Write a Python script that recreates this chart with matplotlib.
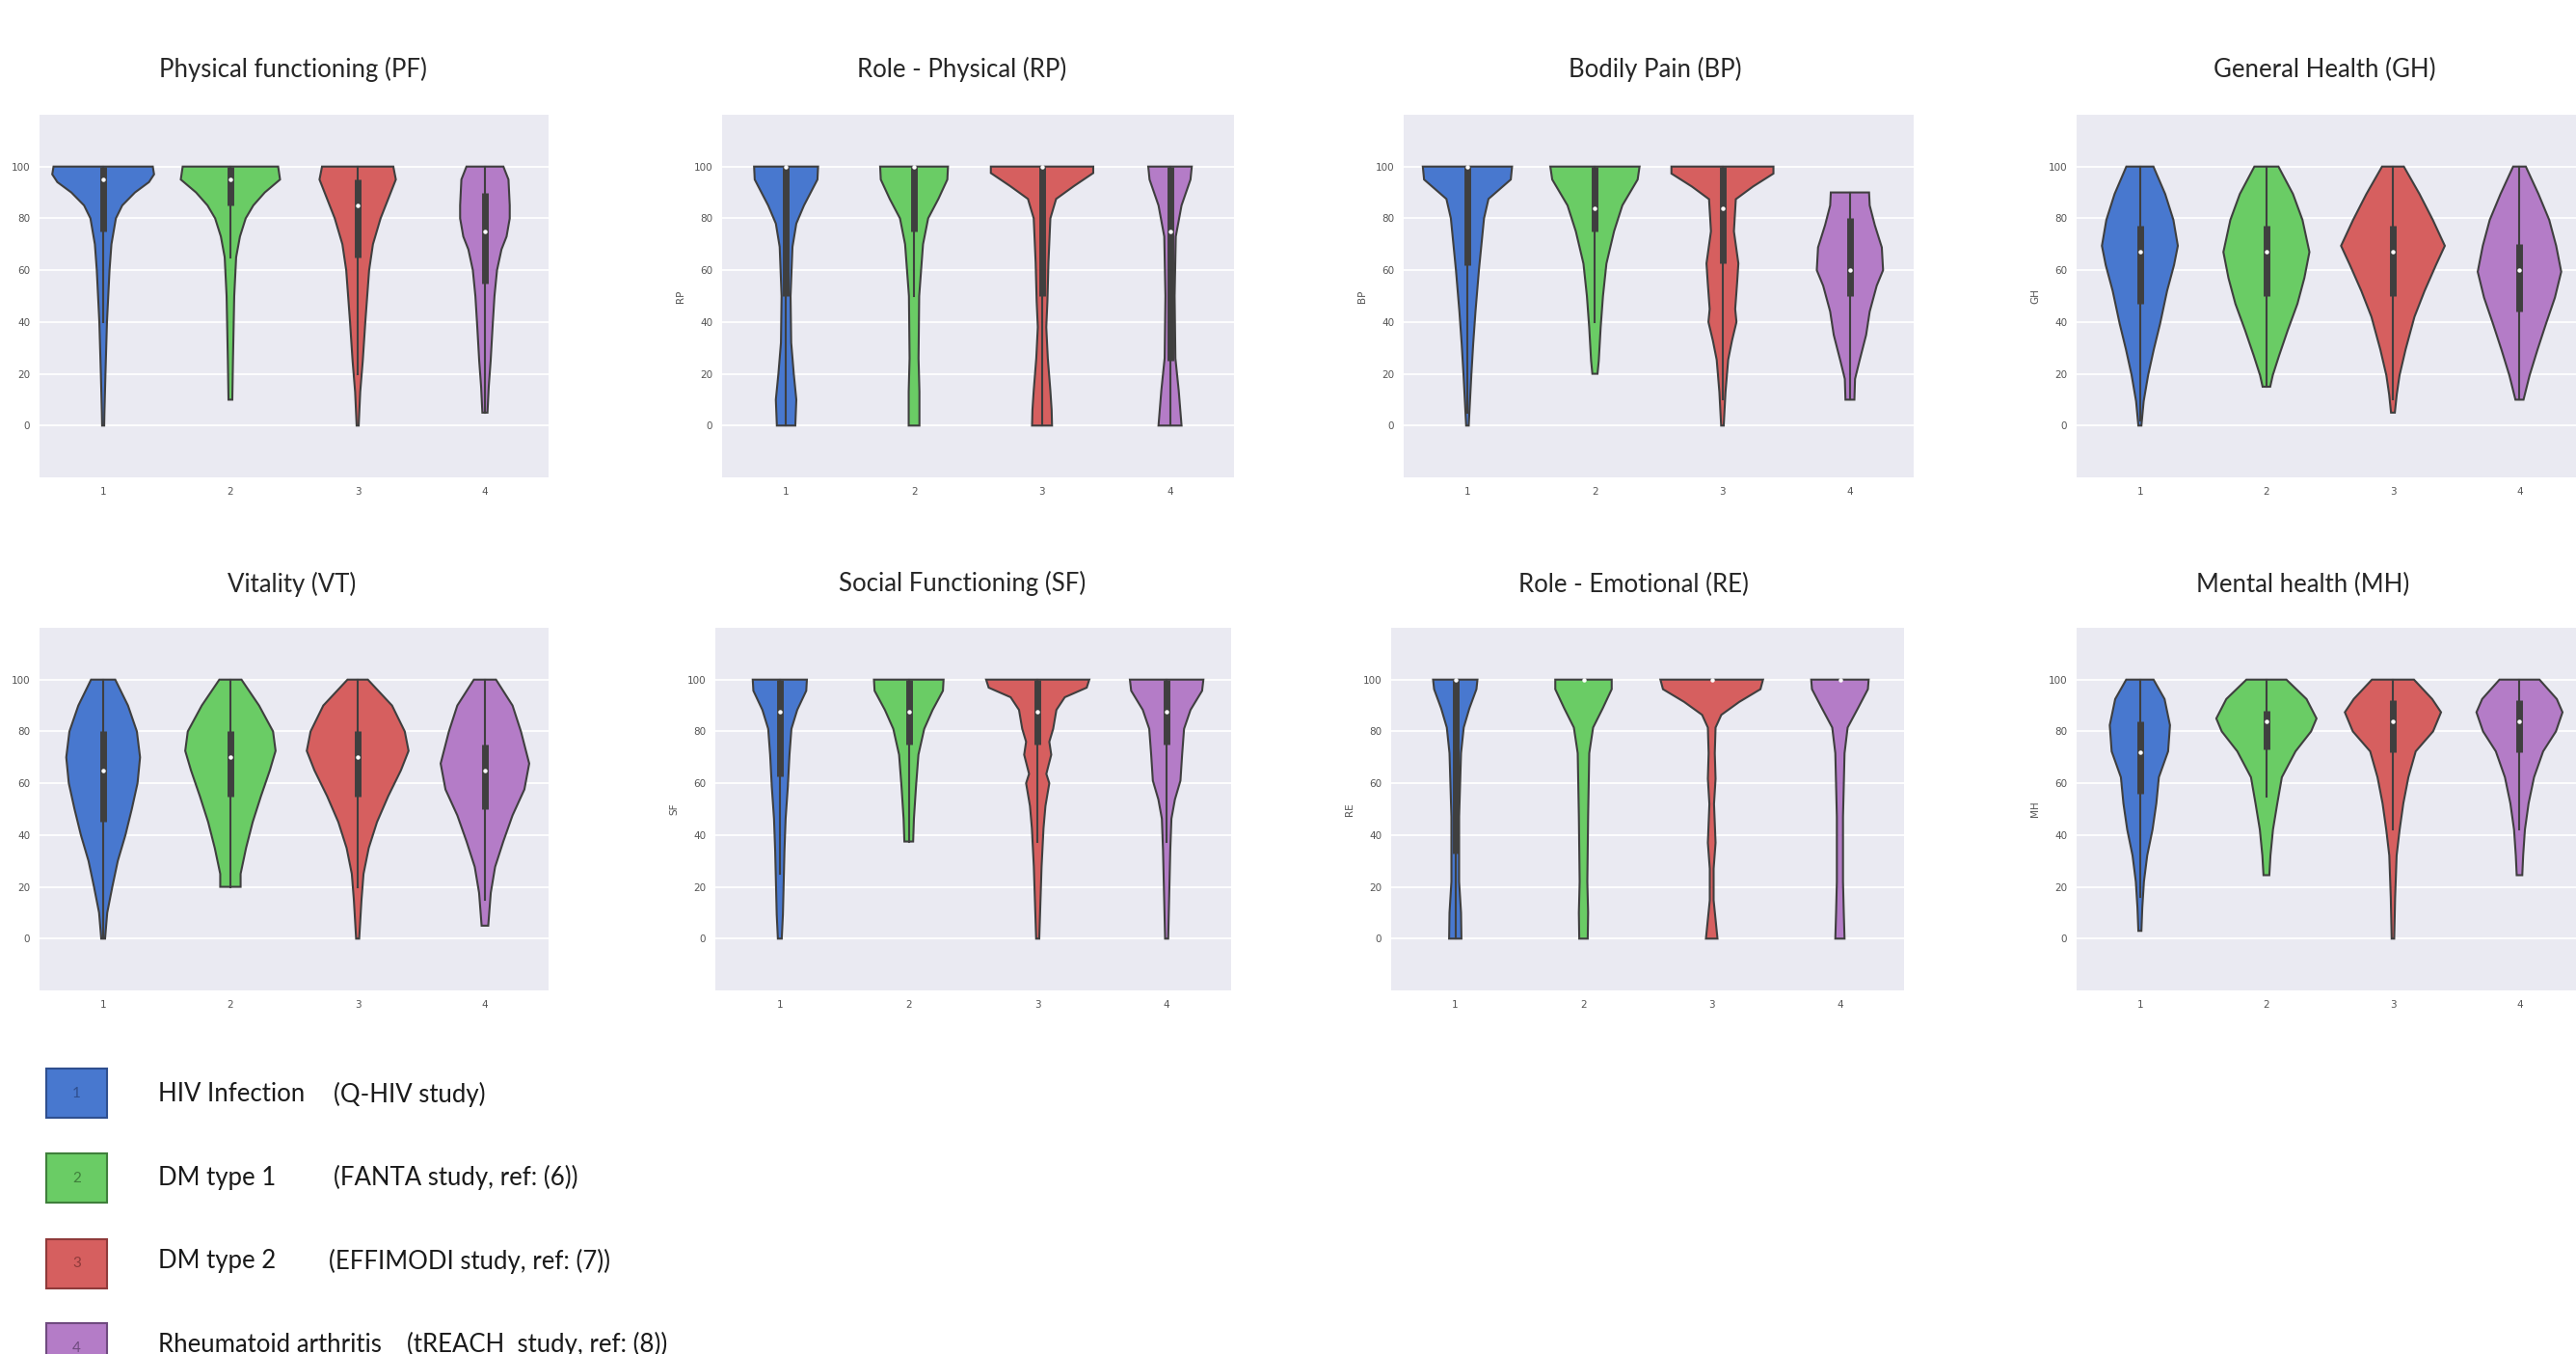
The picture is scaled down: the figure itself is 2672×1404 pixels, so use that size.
import matplotlib
matplotlib.use("Agg")
import matplotlib.pyplot as plt
from matplotlib.patches import Rectangle

W, H = 2672, 1404

groups = ["1", "2", "3", "4"]
colors = ["#4878CF", "#6ACC65", "#D65F5F", "#B47CC7"]
edge_colors = ["#2f4f8f", "#3f7f3b", "#8f3a3a", "#6f4a7f"]
gray = "#3f3f3f"

legend_names = ["HIV Infection", "DM type 1", "DM type 2", "Rheumatoid arthritis"]
legend_studies = ["(Q-HIV study)", "(FANTA study, ref: (6))",
                  "(EFFIMODI study, ref: (7))", "(tREACH  study, ref: (8))"]

# violin outlines: levels (score) and half widths (x units)
# box = [whisker low, q1, median, q3, whisker high]
pf_y = [[100, 97, 94, 90, 85, 80, 70, 60, 40, 20, 5, 0],
        [100, 95, 90, 85, 80, 73, 65, 50, 25, 10],
        [100, 95, 85, 80, 70, 60, 40, 25, 13, 0],
        [100, 95, 85, 80, 73, 68, 60, 50, 38, 25, 15, 5]]
pf_w = [[0.39, 0.40, 0.36, 0.25, 0.15, 0.10, 0.065, 0.05, 0.03, 0.018, 0.01, 0.008],
        [0.375, 0.39, 0.27, 0.18, 0.12, 0.075, 0.045, 0.03, 0.02, 0.015],
        [0.28, 0.30, 0.22, 0.18, 0.12, 0.09, 0.06, 0.04, 0.02, 0.008],
        [0.145, 0.185, 0.195, 0.195, 0.17, 0.13, 0.095, 0.075, 0.06, 0.045, 0.03, 0.02]]
pf_box = [[40, 75, 95, 100, 100], [65, 85, 95, 100, 100],
          [20, 65, 85, 95, 100], [5, 55, 75, 90, 100]]

rp_y = [[100, 95, 85, 78, 69, 50, 32, 20, 10, 0],
        [100, 95, 87.5, 80, 70, 50, 26, 13, 0],
        [100, 97.5, 92.5, 87.5, 80, 63, 48, 38, 26, 13.5, 6, 0],
        [100, 95, 85, 73, 50, 26, 13.5, 0]]
rp_w = [[0.25, 0.245, 0.14, 0.08, 0.05, 0.035, 0.04, 0.06, 0.08, 0.072],
        [0.265, 0.26, 0.19, 0.11, 0.07, 0.04, 0.035, 0.042, 0.042],
        [0.40, 0.40, 0.25, 0.11, 0.065, 0.05, 0.042, 0.033, 0.045, 0.065, 0.075, 0.078],
        [0.17, 0.16, 0.09, 0.045, 0.036, 0.042, 0.068, 0.09]]
rp_box = [[0, 50, 100, 100, 100], [50, 75, 100, 100, 100],
          [0, 50, 100, 100, 100], [0, 25, 75, 100, 100]]

bp_y = [[100, 95, 87.5, 80, 70, 60, 44, 31.5, 19, 0],
        [100, 95, 85, 75, 62.5, 50, 38, 25, 20],
        [100, 97.3, 92.3, 87.4, 75, 62.6, 55, 45, 40, 32.8, 25.4, 13, 0],
        [90, 85, 77.4, 68.8, 60, 54, 44, 35, 25, 18, 10]]
bp_w = [[0.35, 0.34, 0.165, 0.13, 0.11, 0.09, 0.063, 0.045, 0.03, 0.01],
        [0.35, 0.335, 0.215, 0.15, 0.09, 0.063, 0.045, 0.03, 0.02],
        [0.40, 0.40, 0.24, 0.105, 0.09, 0.125, 0.115, 0.10, 0.11, 0.075, 0.045, 0.024, 0.01],
        [0.15, 0.155, 0.195, 0.25, 0.26, 0.21, 0.155, 0.127, 0.075, 0.04, 0.035]]
bp_box = [[5, 62, 100, 100, 100], [40, 75, 84, 100, 100],
          [10, 62.5, 84, 100, 100], [10, 50, 60, 80, 90]]

gh_y = [[100, 89.4, 79.4, 69.4, 62, 52, 39.4, 29.4, 19.4, 9.4, 0],
        [100, 89.4, 79.4, 67, 57, 47, 37, 27, 19.4, 15],
        [100, 89.4, 79.4, 69.4, 62, 52, 42, 29.4, 19.4, 12, 5],
        [100, 89.4, 79.4, 69.4, 59.4, 49.4, 39.4, 29.4, 19.4, 10]]
gh_w = [[0.107, 0.2, 0.265, 0.30, 0.27, 0.215, 0.16, 0.11, 0.065, 0.03, 0.012],
        [0.095, 0.21, 0.285, 0.34, 0.30, 0.245, 0.17, 0.10, 0.05, 0.03],
        [0.086, 0.21, 0.315, 0.41, 0.34, 0.25, 0.17, 0.10, 0.052, 0.03, 0.015],
        [0.05, 0.15, 0.235, 0.29, 0.33, 0.28, 0.21, 0.143, 0.08, 0.032]]
gh_box = [[2, 47, 67, 77, 100], [15, 50, 67, 77, 100],
          [10, 50, 67, 77, 100], [10, 44, 60, 70, 100]]

vt_y = [[100, 90, 80, 70, 60, 50, 40, 30, 20, 10, 0],
        [100, 90, 80, 72.5, 65, 55, 45, 35, 25, 20],
        [100, 90, 80, 72.5, 65, 55, 45, 35, 25, 15, 0],
        [100, 90, 80, 67.6, 57.6, 47.6, 37.6, 27.7, 17.7, 5]]
vt_w = [[0.095, 0.195, 0.265, 0.29, 0.27, 0.225, 0.175, 0.115, 0.072, 0.032, 0.015],
        [0.087, 0.225, 0.335, 0.355, 0.31, 0.24, 0.175, 0.123, 0.08, 0.08],
        [0.08, 0.27, 0.37, 0.40, 0.34, 0.24, 0.152, 0.087, 0.046, 0.03, 0.012],
        [0.087, 0.217, 0.283, 0.348, 0.31, 0.217, 0.145, 0.08, 0.046, 0.026]]
vt_box = [[0, 45, 65, 80, 100], [20, 55, 70, 80, 100],
          [20, 55, 70, 80, 100], [15, 50, 65, 75, 100]]

sf_y = [[100, 95.7, 88.3, 81, 71, 58.6, 46.3, 34, 21.6, 9.3, 0],
        [100, 95.7, 88.3, 81, 71, 58.6, 46.3, 37.5],
        [100, 96.9, 93.2, 88.3, 81, 76, 71, 63.6, 60, 51.2, 42.6, 27.8, 0],
        [100, 95.7, 88.3, 81, 71, 61, 53.7, 46.3, 34, 0]]
sf_w = [[0.21, 0.205, 0.135, 0.09, 0.075, 0.062, 0.045, 0.036, 0.03, 0.024, 0.015],
        [0.27, 0.265, 0.185, 0.12, 0.075, 0.056, 0.04, 0.034],
        [0.40, 0.38, 0.21, 0.145, 0.12, 0.09, 0.105, 0.067, 0.09, 0.06, 0.045, 0.03, 0.012],
        [0.285, 0.275, 0.185, 0.135, 0.12, 0.107, 0.064, 0.037, 0.028, 0.012]]
sf_box = [[25, 62.5, 87.5, 100, 100], [37.5, 75, 87.5, 100, 100],
          [37.5, 75, 87.5, 100, 100], [37.5, 75, 87.5, 100, 100]]

re_y = [[100, 96.3, 88.9, 81.5, 71.6, 47, 22, 10, 0],
        [100, 96.3, 88.9, 81.5, 71.6, 47, 22, 10, 0],
        [100, 96.3, 91.4, 86.4, 81.5, 71.6, 61.7, 52, 37, 27, 14.8, 7.4, 0],
        [100, 96.3, 88.9, 81.5, 71.6, 47, 22, 10, 0]]
re_w = [[0.173, 0.165, 0.11, 0.066, 0.045, 0.03, 0.03, 0.045, 0.048],
        [0.22, 0.22, 0.15, 0.075, 0.045, 0.036, 0.03, 0.036, 0.033],
        [0.40, 0.38, 0.215, 0.075, 0.03, 0.024, 0.03, 0.018, 0.03, 0.015, 0.015, 0.03, 0.045],
        [0.224, 0.218, 0.14, 0.06, 0.036, 0.024, 0.024, 0.03, 0.036]]
re_box = [[0, 33, 100, 100, 100], [100, 100, 100, 100, 100],
          [100, 100, 100, 100, 100], [100, 100, 100, 100, 100]]

mh_y = [[100, 92.5, 82.4, 72.3, 62.3, 52.2, 42.1, 32.1, 22, 11.9, 3],
        [100, 92.5, 85, 80, 72.3, 62.3, 52.2, 42.1, 32.1, 24.5],
        [100, 92.5, 87.4, 80, 72.3, 62.3, 52.2, 42.1, 32.1, 15.7, 0],
        [100, 92.5, 87.4, 80, 72.3, 62.3, 52.2, 42.1, 32.1, 24.5]]
mh_w = [[0.108, 0.195, 0.238, 0.223, 0.15, 0.13, 0.1, 0.058, 0.032, 0.019, 0.012],
        [0.158, 0.317, 0.396, 0.353, 0.23, 0.122, 0.086, 0.052, 0.032, 0.023],
        [0.166, 0.31, 0.38, 0.317, 0.18, 0.122, 0.082, 0.053, 0.029, 0.017, 0.01],
        [0.158, 0.295, 0.34, 0.288, 0.187, 0.115, 0.072, 0.043, 0.029, 0.022]]
mh_box = [[16, 56, 72, 84, 100], [55, 73, 84, 88, 100],
          [42, 72, 84, 92, 100], [42, 72, 84, 92, 100]]

# title, y label, data, axes rect in pixels (left, top, width, height), title centre
panels = [
    ("Physical functioning (PF)", "", pf_y, pf_w, pf_box, (41, 119, 528, 376), (304, 72)),
    ("Role - Physical (RP)", "RP", rp_y, rp_w, rp_box, (749, 119, 531, 376), (998, 72)),
    ("Bodily Pain (BP)", "BP", bp_y, bp_w, bp_box, (1456, 119, 529, 376), (1717, 72)),
    ("General Health (GH)", "GH", gh_y, gh_w, gh_box, (2154, 119, 525, 376), (2411, 72)),
    ("Vitality (VT)", "", vt_y, vt_w, vt_box, (41, 651, 528, 376), (303, 606)),
    ("Social Functioning (SF)", "SF", sf_y, sf_w, sf_box, (742, 651, 535, 376), (998, 605)),
    ("Role - Emotional (RE)", "RE", re_y, re_w, re_box, (1443, 651, 532, 376), (1694, 606)),
    ("Mental health (MH)", "MH", mh_y, mh_w, mh_box, (2154, 651, 525, 376), (2389, 606)),
]

fig = plt.figure(figsize=(W / 100, H / 100), dpi=100, facecolor="white")

# overlay in pixel coordinates for titles and the legend
ov = fig.add_axes([0, 0, 1, 1], zorder=0)
ov.set_xlim(0, W)
ov.set_ylim(H, 0)
ov.axis("off")

for title, ylab, ys, ws, boxes, (l, t, w, h), (tx, ty) in panels:
    ax = fig.add_axes([l / W, 1 - (t + h) / H, w / W, h / H], zorder=1)
    ax.set_facecolor("#EAEAF2")
    for s in ax.spines.values():
        s.set_visible(False)
    ax.set_axisbelow(True)
    ax.grid(axis="y", color="white", linewidth=1.3)
    for i in range(4):
        yv, wv = ys[i], ws[i]
        xs = [i - v for v in wv] + [i + v for v in wv[::-1]]
        yy = list(yv) + list(yv[::-1])
        ax.fill(xs, yy, facecolor=colors[i], edgecolor=gray, linewidth=1.5, zorder=2)
        lo, q1, med, q3, hi = boxes[i]
        ax.plot([i, i], [lo, hi], color=gray, linewidth=1.5, zorder=3)
        ax.plot([i, i], [q1, q3], color=gray, linewidth=5, solid_capstyle="butt", zorder=3)
        ax.plot([i], [med], marker="o", markersize=3.2, color="white",
                markeredgewidth=0, zorder=4)
    ax.set_xlim(-0.5, 3.5)
    ax.set_ylim(-20, 120)
    ax.set_yticks([0, 20, 40, 60, 80, 100])
    ax.set_xticks(range(4))
    ax.set_xticklabels(groups)
    ax.tick_params(length=0, labelsize=7.5, labelcolor="#555555", pad=7)
    if ylab:
        ax.set_ylabel(ylab, fontsize=7.5, color="#555555", labelpad=6)
    ov.text(tx, ty, title, ha="center", va="center", fontsize=18.5,
            family="Lato", color="#262626")

# legend boxes with numbers
sq_tops = [1108, 1196, 1285, 1372]
text_y = [1135, 1221, 1308, 1394]
study_x = [346, 346, 341, 422]
for i in range(4):
    ov.add_patch(Rectangle((48, sq_tops[i]), 63, 51, facecolor=colors[i],
                           edgecolor=edge_colors[i], linewidth=1.5, zorder=2))
    ov.text(79.5, sq_tops[i] + 25.5, groups[i], ha="center", va="center",
            fontsize=11, color=edge_colors[i], family="Lato", zorder=3)
    ov.text(164, text_y[i], legend_names[i], ha="left", va="center",
            fontsize=18.5, family="Lato", color="#1a1a1a")
    ov.text(study_x[i], text_y[i], legend_studies[i], ha="left", va="center",
            fontsize=18.5, family="Lato", color="#1a1a1a")

fig.savefig("out.png", dpi=100, facecolor="white")
